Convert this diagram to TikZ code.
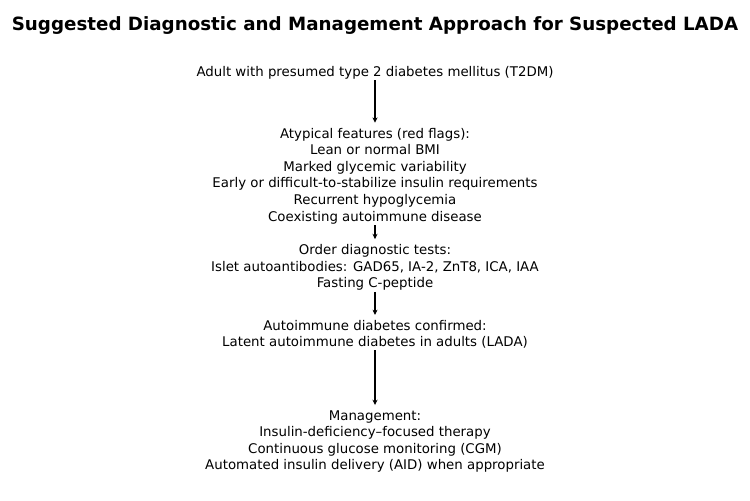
\documentclass[tikz,border=0pt]{standalone}
\usepackage{fontspec}
\setmainfont{DejaVu Sans}
\usepackage{tikz}
\usetikzlibrary{arrows.meta,positioning}

\begin{document}
\begin{tikzpicture}[
	x=0.75pt, y=-0.75pt,
	>={Stealth[length=4pt, width=3.8pt]},
	stepbox/.style={inner sep=0pt, outer sep=0pt, align=center, font=\fontsize{10}{12.45}\selectfont},
	link/.style={->, line width=0.8pt, shorten <=1pt, shorten >=4pt}
]
\useasboundingbox (0,0) rectangle (750,500);

\node[font=\bfseries\fontsize{13.7}{16}\selectfont] (title) at (375,26) {Suggested Diagnostic and Management Approach for Suspected LADA};

\node[stepbox] (adult) at (375,72.5) {Adult with presumed type 2 diabetes mellitus (T2DM)};
\node[stepbox] (flags) at (375,176) {Atypical features (red flags):\\Lean or normal BMI\\Marked glycemic variability\\Early or difficult-to-stabilize insulin requirements\\Recurrent hypoglycemia\\Coexisting autoimmune disease};
\node[stepbox] (tests) at (375,267.5) {Order diagnostic tests:\\Islet autoantibodies: GAD65, IA-2, ZnT8, ICA, IAA\\Fasting C-peptide};
\node[stepbox] (lada) at (375,334.5) {Autoimmune diabetes confirmed:\\Latent autoimmune diabetes in adults (LADA)};
\node[stepbox] (mgmt) at (375,441.5) {Management:\\Insulin-deficiency--focused therapy\\Continuous glucose monitoring (CGM)\\Automated insulin delivery (AID) when appropriate};

\draw[link] (adult) -- (flags);
\draw[link] (flags) -- (tests);
\draw[link] (tests) -- (lada);
\draw[link] (lada) -- (mgmt);
\end{tikzpicture}
\end{document}
